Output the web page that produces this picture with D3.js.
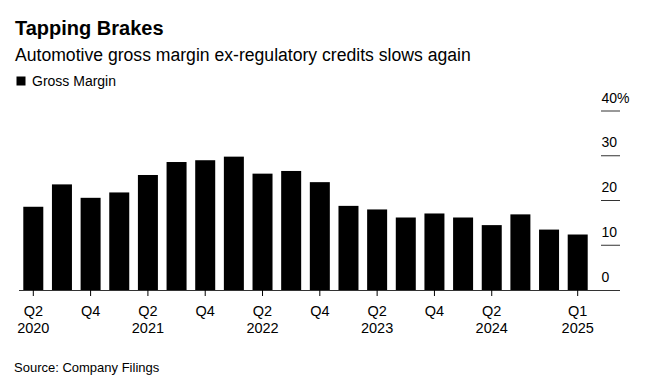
<!DOCTYPE html>
<html><head><meta charset="utf-8">
<script src="https://cdn.jsdelivr.net/npm/d3@7"></script>
<style>body{margin:0;background:#fff;} svg{display:block;font-family:"Liberation Sans",Arial,sans-serif;}</style>
</head><body>
<script>
const quarters = ["Q2 2020","Q3 2020","Q4 2020","Q1 2021","Q2 2021","Q3 2021","Q4 2021","Q1 2022","Q2 2022","Q3 2022","Q4 2022","Q1 2023","Q2 2023","Q3 2023","Q4 2023","Q1 2024","Q2 2024","Q3 2024","Q4 2024","Q1 2025"];
const grossMargin = [18.6,23.6,20.6,21.8,25.7,28.6,29.0,29.8,26.0,26.6,24.1,18.8,18.0,16.2,17.1,16.2,14.5,16.9,13.5,12.4];
const xTickQuarters = ["Q2 2020","Q4 2020","Q2 2021","Q4 2021","Q2 2022","Q4 2022","Q2 2023","Q4 2023","Q2 2024","Q1 2025"];
const xTickLabels = [["Q2","2020"],["Q4"],["Q2","2021"],["Q4"],["Q2","2022"],["Q4"],["Q2","2023"],["Q4"],["Q2","2024"],["Q1","2025"]];
const yTicks = [0,10,20,30,40];

const W = 651, H = 385;
const svg = d3.select("body").append("svg").attr("width", W).attr("height", H);

svg.append("text").attr("x", 15).attr("y", 35).attr("font-size", 20).attr("font-weight", "bold").attr("fill", "#000").text("Tapping Brakes");
svg.append("text").attr("x", 15).attr("y", 61).attr("font-size", 17.6).attr("fill", "#000").text("Automotive gross margin ex-regulatory credits slows again");
svg.append("rect").attr("x", 16.5).attr("y", 76.5).attr("width", 9).attr("height", 9).attr("fill", "#000");
svg.append("text").attr("x", 32).attr("y", 86).attr("font-size", 14).attr("fill", "#000").text("Gross Margin");
svg.append("text").attr("x", 14).attr("y", 372).attr("font-size", 13).attr("fill", "#000").text("Source: Company Filings");

const x = d3.scaleBand().domain(quarters).range([19, 592]).paddingInner(0.302).paddingOuter(0.15);
const y = d3.scaleLinear().domain([0, 40]).range([290, 111]);

const yg = svg.append("g");
yTicks.forEach(t => {
  if (t > 0) {
    yg.append("line").attr("x1", 601).attr("x2", 620).attr("y1", y(t)).attr("y2", y(t)).attr("stroke", "#333").attr("stroke-width", 1);
  }
  yg.append("text").attr("x", 601.5).attr("y", y(t) - 8.5).attr("font-size", 14).attr("fill", "#000").text(t === 40 ? t + "%" : t);
});

svg.append("g").selectAll("rect").data(grossMargin).join("rect")
  .attr("x", (d, i) => x(quarters[i]))
  .attr("width", x.bandwidth())
  .attr("y", d => y(d))
  .attr("height", d => y(0) - y(d))
  .attr("fill", "#000");

svg.append("line").attr("x1", 19).attr("x2", 620).attr("y1", 290.5).attr("y2", 290.5).attr("stroke", "#333").attr("stroke-width", 1);

const xg = svg.append("g");
xTickQuarters.forEach((q, i) => {
  const cx = x(q) + x.bandwidth() / 2;
  xg.append("line").attr("x1", cx).attr("x2", cx).attr("y1", 290).attr("y2", 296).attr("stroke", "#000").attr("stroke-width", 1);
  const t = xg.append("text").attr("x", cx).attr("text-anchor", "middle").attr("font-size", 14.5).attr("fill", "#000");
  xTickLabels[i].forEach((s, j) => t.append("tspan").attr("x", cx).attr("y", 315.5 + j * 17).text(s));
});
</script>
</body></html>
